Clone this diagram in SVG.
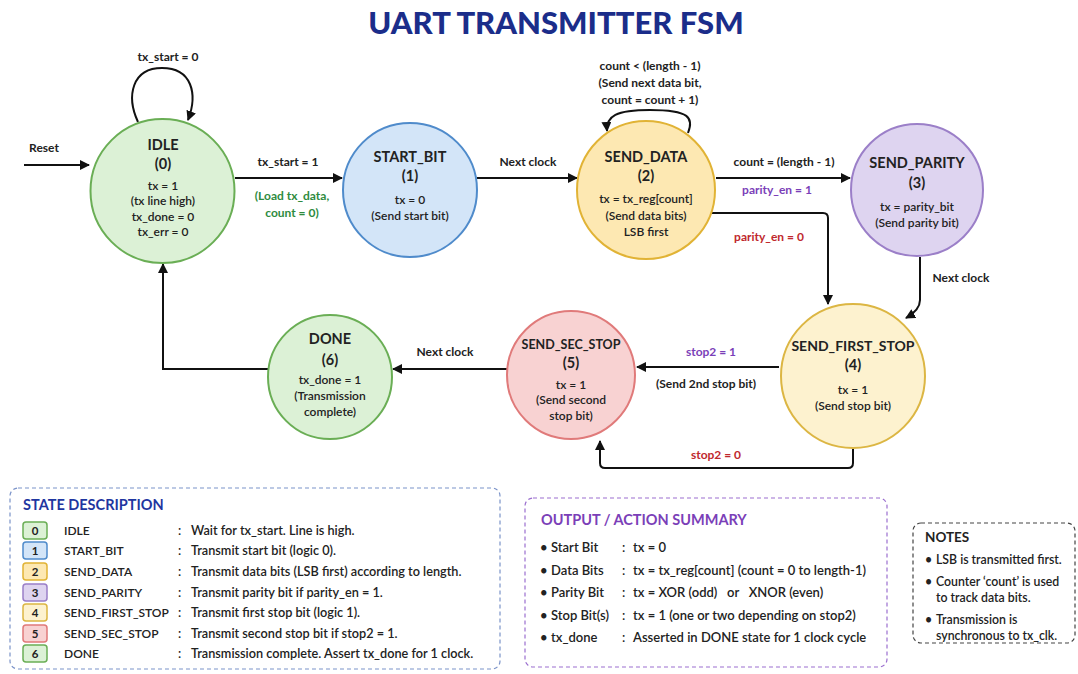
<svg xmlns="http://www.w3.org/2000/svg" width="1078" height="674" viewBox="0 0 1078 674">
<defs>
<marker id="ah" viewBox="0 0 10 10" refX="9" refY="5" markerWidth="10" markerHeight="10" markerUnits="userSpaceOnUse" orient="auto">
<path d="M0,0 L10,5 L0,10 z" fill="#111"/>
</marker>
<style>
text{font-family:Lato,"Open Sans","Liberation Sans",sans-serif;fill:#222;}
.t{font-weight:bold;font-size:13.5px;text-anchor:middle;}
.n{font-size:14.5px;}
.s{font-size:12px;text-anchor:middle;font-weight:600;}
.l{font-size:12px;font-weight:bold;text-anchor:middle;}
.edge{fill:none;stroke:#111;stroke-width:2;marker-end:url(#ah);}
.row{font-size:12.7px;font-weight:600;}
.nm{font-size:12px;font-weight:600;}
.orow{font-size:13px;font-weight:600;}
.nrow{font-size:12.3px;font-weight:600;}
.badge{font-size:11.5px;font-weight:bold;text-anchor:middle;}
</style>
</defs>
<rect width="1078" height="674" fill="#ffffff"/>
<text x="556" y="34" style="font-size:31px;font-weight:900;fill:#1b2d8a;text-anchor:middle;">UART TRANSMITTER FSM</text>

<g id="connectors">
<path class="edge" d="M24,165 L89,165"/>
<text x="44" y="152" class="l">Reset</text>
<path class="edge" d="M138,122 C126,96 132,68 162,68 C192,68 198,94 188,120"/>
<text x="168" y="61" class="l">tx_start = 0</text>
<path class="edge" d="M235,178 L342,178"/>
<text x="288" y="166" class="l">tx_start = 1</text>
<text x="292" y="200" class="l" style="fill:#2e8b3e">(Load tx_data,</text>
<text x="292" y="217" class="l" style="fill:#2e8b3e">count = 0)</text>
<path class="edge" d="M477,178 L577,178"/>
<text x="528" y="166" class="l">Next clock</text>
<path class="edge" d="M688,133 C694,118 690,110 650,110 C616,110 606,116 607,131"/>
<text x="650" y="70" class="l">count &lt; (length - 1)</text>
<text x="650" y="87" class="l">(Send next data bit,</text>
<text x="650" y="104" class="l">count = count + 1)</text>
<path class="edge" d="M716,178 L850,178"/>
<text x="784" y="166" class="l">count = (length - 1)</text>
<text x="777" y="194" class="l" style="fill:#7b3fb8">parity_en = 1</text>
<path class="edge" d="M712,213 L823,213 Q828,213 828,218 L828,304"/>
<text x="769" y="241" class="l" style="fill:#c0282d">parity_en = 0</text>
<path class="edge" d="M920,257 L920,300 Q920,310 906,318"/>
<text x="961" y="282" class="l">Next clock</text>
<path class="edge" d="M779,367 L637,367"/>
<text x="711" y="356" class="l" style="fill:#7b3fb8">stop2 = 1</text>
<text x="706" y="388" class="l">(Send 2nd stop bit)</text>
<path class="edge" d="M853,447 L853,463 Q853,468 848,468 L605,468 Q600,468 600,463 L600,441"/>
<text x="716" y="459" class="l" style="fill:#c0282d">stop2 = 0</text>
<path class="edge" d="M507,369 L393,369"/>
<text x="445" y="356" class="l">Next clock</text>
<path class="edge" d="M268,369 L163,369 L163,264"/>
</g>

<g id="idle">
<circle cx="162.5" cy="191" r="72" fill="#dcf1d6" stroke="#6aae55" stroke-width="2"/>
<text x="163" y="150" class="t n">IDLE</text>
<text x="163" y="169" class="t n">(0)</text>
<text x="163" y="190" class="s">tx = 1</text>
<text x="163" y="205" class="s">(tx line high)</text>
<text x="163" y="221" class="s">tx_done = 0</text>
<text x="163" y="236" class="s">tx_err = 0</text>
</g>
<g id="start_bit">
<circle cx="410" cy="190" r="67" fill="#d3e5f8" stroke="#4f8bcb" stroke-width="2"/>
<text x="410" y="162" class="t n">START_BIT</text>
<text x="410" y="181" class="t n">(1)</text>
<text x="410" y="204" class="s">tx = 0</text>
<text x="410" y="220" class="s">(Send start bit)</text>
</g>
<g id="send_data">
<circle cx="646" cy="190" r="69" fill="#fde8b2" stroke="#e1b335" stroke-width="2"/>
<text x="646" y="162" class="t n">SEND_DATA</text>
<text x="646" y="181" class="t n">(2)</text>
<text x="646" y="203" class="s">tx = tx_reg[count]</text>
<text x="646" y="220" class="s">(Send data bits)</text>
<text x="646" y="236" class="s">LSB first</text>
</g>
<g id="send_parity">
<circle cx="917" cy="190" r="66" fill="#ded4f0" stroke="#9b7fc8" stroke-width="2"/>
<text x="917" y="168" class="t n">SEND_PARITY</text>
<text x="917" y="188" class="t n">(3)</text>
<text x="917" y="211" class="s">tx = parity_bit</text>
<text x="917" y="227" class="s">(Send parity bit)</text>
</g>
<g id="send_first_stop">
<circle cx="853" cy="376" r="72" fill="#fdf2cf" stroke="#dcb643" stroke-width="2"/>
<text x="853" y="351" class="t" style="font-size:14px">SEND_FIRST_STOP</text>
<text x="853" y="370" class="t n">(4)</text>
<text x="853" y="394" class="s">tx = 1</text>
<text x="853" y="410" class="s">(Send stop bit)</text>
</g>
<g id="send_sec_stop">
<circle cx="571" cy="375" r="64" fill="#f8d2d2" stroke="#e07a7a" stroke-width="2"/>
<text x="571" y="349" class="t" style="font-size:12.5px">SEND_SEC_STOP</text>
<text x="571" y="368" class="t n">(5)</text>
<text x="571" y="389" class="s">tx = 1</text>
<text x="571" y="404" class="s">(Send second</text>
<text x="571" y="420" class="s">stop bit)</text>
</g>
<g id="done">
<circle cx="330" cy="377" r="62" fill="#dcf1d6" stroke="#6aae55" stroke-width="2"/>
<text x="330" y="344" class="t n">DONE</text>
<text x="330" y="365" class="t n">(6)</text>
<text x="330" y="384" class="s">tx_done = 1</text>
<text x="330" y="400" class="s">(Transmission</text>
<text x="330" y="416" class="s">complete)</text>
</g>

<g id="state_description">
<rect x="10" y="488" width="490" height="181" rx="8" fill="#fff" stroke="#7b93c9" stroke-width="1.2" stroke-dasharray="4,3"/>
<text x="23" y="510" style="font-size:14.5px;font-weight:bold;fill:#1f36a0">STATE DESCRIPTION</text>
<rect x="23" y="522" width="24" height="17" rx="3" fill="#dcf1d6" stroke="#6aae55" stroke-width="1.5"/>
<text x="35" y="535" class="badge">0</text>
<text x="64" y="535" class="nm">IDLE</text><text x="178" y="535" class="row">:</text><text x="191" y="535" class="row">Wait for tx_start. Line is high.</text>
<rect x="23" y="542" width="24" height="17" rx="3" fill="#d3e5f8" stroke="#4f8bcb" stroke-width="1.5"/>
<text x="35" y="555" class="badge">1</text>
<text x="64" y="555" class="nm">START_BIT</text><text x="178" y="555" class="row">:</text><text x="191" y="555" class="row">Transmit start bit (logic 0).</text>
<rect x="23" y="563" width="24" height="17" rx="3" fill="#fde8b2" stroke="#e1b335" stroke-width="1.5"/>
<text x="35" y="576" class="badge">2</text>
<text x="64" y="576" class="nm">SEND_DATA</text><text x="178" y="576" class="row">:</text><text x="191" y="576" class="row">Transmit data bits (LSB first) according to length.</text>
<rect x="23" y="584" width="24" height="17" rx="3" fill="#ded4f0" stroke="#9b7fc8" stroke-width="1.5"/>
<text x="35" y="597" class="badge">3</text>
<text x="64" y="597" class="nm">SEND_PARITY</text><text x="178" y="597" class="row">:</text><text x="191" y="597" class="row">Transmit parity bit if parity_en = 1.</text>
<rect x="23" y="604" width="24" height="17" rx="3" fill="#fdf2cf" stroke="#dcb643" stroke-width="1.5"/>
<text x="35" y="617" class="badge">4</text>
<text x="64" y="617" class="nm">SEND_FIRST_STOP</text><text x="178" y="617" class="row">:</text><text x="191" y="617" class="row">Transmit first stop bit (logic 1).</text>
<rect x="23" y="625" width="24" height="17" rx="3" fill="#f8d2d2" stroke="#e07a7a" stroke-width="1.5"/>
<text x="35" y="638" class="badge">5</text>
<text x="64" y="638" class="nm">SEND_SEC_STOP</text><text x="178" y="638" class="row">:</text><text x="191" y="638" class="row">Transmit second stop bit if stop2 = 1.</text>
<rect x="23" y="645" width="24" height="17" rx="3" fill="#dcf1d6" stroke="#6aae55" stroke-width="1.5"/>
<text x="35" y="658" class="badge">6</text>
<text x="64" y="658" class="nm">DONE</text><text x="178" y="658" class="row">:</text><text x="191" y="658" class="row">Transmission complete. Assert tx_done for 1 clock.</text>
</g>

<g id="output_summary">
<rect x="525" y="498" width="362" height="169" rx="8" fill="#fff" stroke="#9b6fcf" stroke-width="1.2" stroke-dasharray="4,3"/>
<text x="541" y="525" style="font-size:14.5px;font-weight:bold;fill:#7b3fb8">OUTPUT / ACTION SUMMARY</text>
<text x="540" y="552" class="orow">•</text><text x="551" y="552" class="orow">Start Bit</text><text x="622" y="552" class="orow">:</text><text x="633" y="552" class="orow">tx = 0</text>
<text x="540" y="575" class="orow">•</text><text x="551" y="575" class="orow">Data Bits</text><text x="622" y="575" class="orow">:</text><text x="633" y="575" class="orow">tx = tx_reg[count] (count = 0 to length-1)</text>
<text x="540" y="597" class="orow">•</text><text x="551" y="597" class="orow">Parity Bit</text><text x="622" y="597" class="orow">:</text><text x="633" y="597" class="orow" xml:space="preserve">tx = XOR (odd)   or   XNOR (even)</text>
<text x="540" y="620" class="orow">•</text><text x="551" y="620" class="orow">Stop Bit(s)</text><text x="622" y="620" class="orow">:</text><text x="633" y="620" class="orow">tx = 1 (one or two depending on stop2)</text>
<text x="540" y="642" class="orow">•</text><text x="551" y="642" class="orow">tx_done</text><text x="622" y="642" class="orow">:</text><text x="633" y="642" class="orow">Asserted in DONE state for 1 clock cycle</text>
</g>

<g id="notes">
<rect x="913" y="523" width="162" height="120" rx="8" fill="#fff" stroke="#444" stroke-width="1.2" stroke-dasharray="4,3"/>
<text x="925" y="542" style="font-size:13.5px;font-weight:bold;fill:#222">NOTES</text>
<text x="925" y="564" class="nrow">•</text><text x="936" y="564" class="nrow">LSB is transmitted first.</text>
<text x="925" y="586" class="nrow">•</text><text x="936" y="586" class="nrow">Counter ‘count’ is used</text>
<text x="936" y="602" class="nrow">to track data bits.</text>
<text x="925" y="624" class="nrow">•</text><text x="936" y="624" class="nrow">Transmission is</text>
<text x="936" y="640" class="nrow">synchronous to tx_clk.</text>
</g>
</svg>
